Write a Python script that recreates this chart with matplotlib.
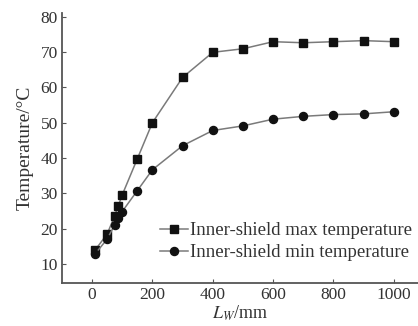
import matplotlib
matplotlib.use("Agg")
import matplotlib.pyplot as plt

plt.rcParams['font.family'] = ['Liberation Serif', 'DejaVu Serif']
plt.rcParams['mathtext.fontset'] = 'stix'

x_max = [10, 50, 75, 87, 100, 150, 200, 300, 400, 500, 600, 700, 800, 900, 1000]
t_max = [14.0, 18.5, 23.7, 26.5, 29.6, 39.8, 50.0, 62.8, 69.9, 70.9, 72.9, 72.6, 72.9, 73.2, 72.9]
x_min = [10, 50, 75, 87, 100, 150, 200, 300, 400, 500, 600, 700, 800, 900, 1000]
t_min = [12.9, 17.1, 21.1, 23.0, 24.9, 30.8, 36.7, 43.5, 47.8, 49.1, 51.0, 51.8, 52.3, 52.5, 53.1]
xticks = [0, 200, 400, 600, 800, 1000]
yticks = [10, 20, 30, 40, 50, 60, 70, 80]

fig = plt.figure(figsize=(4.18, 3.26), dpi=100)
ax = fig.add_axes([0.148, 0.132, 0.852, 0.828])

line_c = '#7a7a7a'
mk_c = '#111111'
ax.plot(x_max, t_max, '-', color=line_c, lw=1.1, marker='s', ms=5.2,
        mfc=mk_c, mec=mk_c, label='Inner-shield max temperature')
ax.plot(x_min, t_min, '-', color=line_c, lw=1.1, marker='o', ms=5.8,
        mfc=mk_c, mec=mk_c, label='Inner-shield min temperature')

ax.set_xlim(-100, 1080)
ax.set_ylim(4.7, 81)
ax.set_xticks(xticks)
ax.set_yticks(yticks)
for s in ['top', 'right']:
    ax.spines[s].set_visible(False)
for s in ['left', 'bottom']:
    ax.spines[s].set_color('#555555')
    ax.spines[s].set_linewidth(1.3)
ax.tick_params(direction='in', length=3, color='#555555', labelsize=12.5,
               labelcolor='#333333', pad=3)
ax.set_xlabel(r'$L_W$/mm', fontsize=13, color='#333333', labelpad=0)
ax.set_ylabel('Temperature/°C', fontsize=14, color='#333333', labelpad=5)

leg = ax.legend(loc='upper left', bbox_to_anchor=(0.275, 0.225), frameon=False,
                fontsize=13.5, handlelength=1.5, handletextpad=0.1,
                labelspacing=0.25, borderaxespad=0, borderpad=0)
for t in leg.get_texts():
    t.set_color('#333333')

fig.savefig('out.png', dpi=100)
